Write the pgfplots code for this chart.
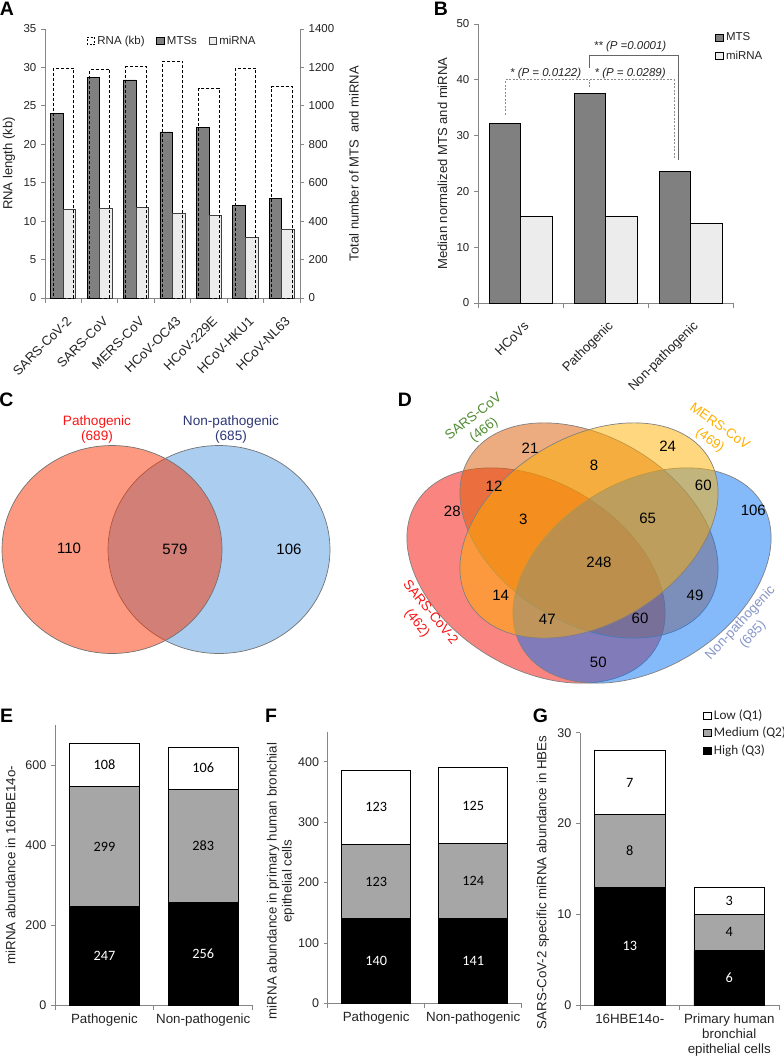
\documentclass[border=0pt]{standalone}
\usepackage{fontspec}
\setmainfont{Liberation Sans}
\newfontfamily\calib{Carlito}
\usepackage{pgfplots}
\pgfplotsset{compat=1.18}
\newdimen\px \px=0.75pt
\definecolor{axg}{RGB}{134,134,134}
\definecolor{txt}{RGB}{35,35,35}
\definecolor{mts}{RGB}{128,128,128}
\definecolor{mir}{RGB}{236,236,236}
\definecolor{med}{RGB}{166,166,166}
\definecolor{vL}{RGB}{249,51,1}
\definecolor{vR}{RGB}{85,155,225}
\definecolor{dA}{RGB}{245,10,0}
\definecolor{dB}{RGB}{220,90,0}
\definecolor{dC}{RGB}{255,175,0}
\definecolor{dD}{RGB}{10,115,245}
\definecolor{pgreen}{RGB}{80,140,50}
\definecolor{porange}{RGB}{255,175,0}
\definecolor{pslate}{RGB}{135,150,200}
\definecolor{pnavy}{RGB}{45,55,120}
\definecolor{pred}{RGB}{250,20,20}
\newcommand\ftick{\fontsize{8.6}{10}\selectfont}
\newcommand\frot{\fontsize{9.8}{10}\selectfont}
\newcommand\flab{\fontsize{9.8}{11}\selectfont}
\newcommand\fbtick{\fontsize{9.4}{11}\selectfont}
\newcommand\fblab{\fontsize{10}{11.25}\selectfont}
\newcommand\fletter{\fontsize{14.6}{16}\selectfont\bfseries}
\newcommand\fnum{\fontsize{11.25}{13}\selectfont}
\newcommand\fin{\calib\fontsize{10.7}{12}\selectfont}
\pgfplotsset{
  base/.style={
    scale only axis, anchor=south west,
    axis line style={axg, line width=0.8\px},
    tick style={axg, line width=0.8\px},
    tick align=outside,
    major tick length=4\px, minor tick length=5\px,
    /pgf/number format/assume math mode=true,
    /pgf/number format/1000 sep={},
    tick label style={text=txt},
    label style={text=txt},
    axis x line*=bottom, axis y line*=left,
    major x tick style={draw=none},
  },
  over/.style={scale only axis, anchor=south west, hide axis, clip=false},
  sqleg/.style={legend image code/.code={\draw[##1] (0pt,-3.5\px) rectangle (7.5\px,3.5\px);}},
}
\begin{document}
\begin{tikzpicture}
\useasboundingbox (0,0) rectangle (784\px,-1059\px);

% ---------------- Panel A ----------------
\begin{axis}[base, at={(45\px,-298\px)}, width=255\px, height=269\px,
  xmin=-0.5, xmax=6.5, ymin=0, ymax=1400,
  axis y line*=right,
  ytick={0,200,...,1400},
  xtick={0,...,6},
  xticklabels={SARS-CoV-2,SARS-CoV,MERS-CoV,HCoV-OC43,HCoV-229E,HCoV-HKU1,HCoV-NL63},
  minor xtick={-0.5,0.5,...,6.5},
  x tick label style={font=\frot, yshift=-16\px, xshift=7\px, rotate=45, anchor=east, inner sep=1pt},
  y tick label style={font=\ftick},
  ylabel={Total number of MTS\ \ and miRNA},
  ylabel style={font=\flab, at={(axis description cs:1.212,0.5)}, anchor=center},
]
\addplot[ybar, bar width=0.345, bar shift=-0.1725, fill=mts, draw=black, line width=0.8\px]
  coordinates {(0,959) (1,1150) (2,1135) (3,864) (4,888) (5,482) (6,520)};
\addplot[ybar, bar width=0.345, bar shift=0.1725, fill=mir, draw=black!75, line width=0.8\px]
  coordinates {(0,462) (1,466) (2,469) (3,442) (4,430) (5,316) (6,359)};
\end{axis}
\begin{axis}[base, at={(45\px,-298\px)}, width=255\px, height=269\px,
  xmin=-0.5, xmax=6.5, ymin=0, ymax=35,
  axis x line=none,
  ytick={0,5,...,35},
  y tick label style={font=\ftick},
  ylabel={RNA length (kb)},
  ylabel style={font=\flab, at={(axis description cs:-0.141,0.5)}, anchor=center},
  legend style={at={(0.5,0.995)}, anchor=north, draw=none, fill=none, legend columns=3,
    font=\ftick, text=txt, /tikz/every even column/.append style={column sep=9\px}},
]
\addplot[ybar, bar width=0.56, bar shift=0, draw=black, fill=none, line width=0.8\px,
  dash pattern=on 3\px off 2\px, forget plot]
  coordinates {(0,29.9) (1,29.7) (2,30.1) (3,30.8) (4,27.3) (5,29.9) (6,27.5)};
\addlegendimage{sqleg, draw=black, dash pattern=on 2\px off 1.5\px, fill=white}
\addlegendimage{sqleg, draw=black, fill=mts}
\addlegendimage{sqleg, draw=black!75, fill=mir}
\legend{RNA (kb), MTSs, miRNA}
\end{axis}

% ---------------- Panel B ----------------
\begin{axis}[base, at={(478\px,-303\px)}, width=255\px, height=279\px,
  xmin=-0.5, xmax=2.5, ymin=0, ymax=50, clip=false,
  ytick={0,10,...,50},
  xtick={0,1,2}, xticklabels={HCoVs,Pathogenic,Non-pathogenic},
  minor xtick={-0.5,0.5,1.5,2.5},
  x tick label style={font=\frot, yshift=-16\px, xshift=7\px, rotate=45, anchor=east, inner sep=1pt},
  y tick label style={font=\ftick},
  ylabel={Median normalized MTS and miRNA},
  ylabel style={font=\flab, at={(axis description cs:-0.139,0.5)}, anchor=center},
  legend style={at={(0.914,0.99)}, anchor=north west, draw=none, fill=none,
    font=\ftick, text=txt, row sep=3\px},
  legend cell align=left,
]
\addplot[ybar, bar width=0.37, bar shift=-0.185, fill=mts, draw=black, line width=0.8\px, forget plot]
  coordinates {(0,32.1) (1,37.6) (2,23.5)};
\addplot[ybar, bar width=0.37, bar shift=0.185, fill=mir, draw=black, line width=0.8\px, forget plot]
  coordinates {(0,15.5) (1,15.6) (2,14.3)};
\addlegendimage{sqleg, draw=black, fill=mts}
\addlegendimage{sqleg, draw=black, fill=mir}
\legend{MTS, miRNA}
\draw[black!45, line width=0.8\px, dash pattern=on 2\px off 1.5\px]
  (axis cs:-0.178,33.75) |- (axis cs:1.806,40) -- (axis cs:1.806,25.7);
\draw[black!45, line width=0.8\px, dash pattern=on 2\px off 1.5\px]
  (axis cs:0.814,38.7) -- (axis cs:0.814,40);
\draw[black!60, line width=0.8\px]
  (axis cs:0.814,42.1) |- (axis cs:1.853,44.3) -- (axis cs:1.853,25.7);
\node[font=\ftick\itshape, text=txt] at (axis cs:0.296,41.2) {* (P = 0.0122)};
\node[font=\ftick\itshape, text=txt] at (axis cs:1.29,41.2) {* (P = 0.0289)};
\node[font=\ftick\itshape, text=txt] at (axis cs:1.29,45.9) {** (P =0.0001)};
\end{axis}

% ---------------- Panels C and D (Venn) ----------------
\begin{axis}[over, at={(0\px,-690\px)}, width=784\px, height=305\px,
  xmin=0, xmax=784, ymin=385, ymax=690, y dir=reverse]
% C
\filldraw[fill=vR, fill opacity=0.5, draw=black!55, line width=0.7\px]
  (axis cs:219,549.5) ellipse [x radius=111\px, y radius=104\px];
\filldraw[fill=vL, fill opacity=0.5, draw=black!55, line width=0.7\px]
  (axis cs:112,549.5) ellipse [x radius=110\px, y radius=104\px];
\node[font=\fontsize{10.2}{11.25}\selectfont, text=pred, align=center] at (axis cs:97,429.5) {Pathogenic\\(689)};
\node[font=\fontsize{10.2}{11.25}\selectfont, text=pnavy, align=center] at (axis cs:231,429) {Non-pathogenic\\(685)};
\node[font=\fnum] at (axis cs:69,548) {110};
\node[font=\fnum] at (axis cs:175,549) {579};
\node[font=\fnum] at (axis cs:289,549) {106};
% D
\filldraw[fill=dA, fill opacity=0.5, draw=black!50, line width=0.7\px, rotate around={-31.2:(axis cs:536,575.5)}]
  (axis cs:536,575.5) ellipse [x radius=140\px, y radius=93\px];
\filldraw[fill=dB, fill opacity=0.5, draw=black!50, line width=0.7\px, rotate around={-31.2:(axis cs:589,530.5)}]
  (axis cs:589,530.5) ellipse [x radius=140\px, y radius=93\px];
\filldraw[fill=dD, fill opacity=0.5, draw=black!50, line width=0.7\px, rotate around={31.2:(axis cs:642,575.5)}]
  (axis cs:642,575.5) ellipse [x radius=140\px, y radius=93\px];
\filldraw[fill=dC, fill opacity=0.5, draw=black!50, line width=0.7\px, rotate around={31.2:(axis cs:589,530.5)}]
  (axis cs:589,530.5) ellipse [x radius=140\px, y radius=93\px];
\node[font=\fontsize{10.1}{12.75}\selectfont, text=pgreen, align=center, rotate=38] at (axis cs:479,423.7) {SARS-CoV\\(466)};
\node[font=\fontsize{10.1}{12.75}\selectfont, text=porange, align=center, rotate=-35.5] at (axis cs:714.5,433.7) {MERS-CoV\\(469)};
\node[font=\fontsize{10.1}{12.75}\selectfont, text=pred, align=center, rotate=-51] at (axis cs:423.3,618) {SARS-CoV-2\\(462)};
\node[font=\fontsize{10.1}{12.75}\selectfont, text=pslate, align=center, rotate=47] at (axis cs:746.7,629) {Non-pathogenic\\(685)};
\node[font=\fnum] at (axis cs:530,448.3) {21};
\node[font=\fnum] at (axis cs:594,465) {8};
\node[font=\fnum] at (axis cs:667.7,446.7) {24};
\node[font=\fnum] at (axis cs:494,486) {12};
\node[font=\fnum] at (axis cs:703.3,485) {60};
\node[font=\fnum] at (axis cs:452.3,511.7) {28};
\node[font=\fnum] at (axis cs:753.3,510.7) {106};
\node[font=\fnum] at (axis cs:523.3,519.3) {3};
\node[font=\fnum] at (axis cs:647.7,518.3) {65};
\node[font=\fnum] at (axis cs:599,562.7) {248};
\node[font=\fnum] at (axis cs:500.7,595) {14};
\node[font=\fnum] at (axis cs:695,595) {49};
\node[font=\fnum] at (axis cs:547.3,619) {47};
\node[font=\fnum] at (axis cs:640,618.3) {60};
\node[font=\fnum] at (axis cs:598.3,662.7) {50};
\end{axis}

% ---------------- Panel E ----------------
\begin{axis}[base, at={(55\px,-1005\px)}, width=197.7\px, height=280\px,
  ybar stacked, bar width=0.71,
  xmin=-0.5, xmax=1.5, ymin=0, ymax=700,
  ytick={0,200,400,600},
  xtick={0,1}, xticklabels={Pathogenic,Non-pathogenic},
  minor xtick={-0.5,0.5,1.5},
  x tick label style={font=\fblab},
  y tick label style={font=\fbtick},
  ylabel={miRNA abundance in 16HBE14o-},
  ylabel style={font=\fblab, at={(axis description cs:-0.225,0.5)}, anchor=center},
]
\addplot[fill=black, draw=black, line width=0.8\px] coordinates {(0,247) (1,256)};
\addplot[fill=med, draw=black, line width=0.8\px] coordinates {(0,299) (1,283)};
\addplot[fill=white, draw=black, line width=0.8\px] coordinates {(0,108) (1,106)};
\end{axis}
\begin{axis}[over, at={(55\px,-1005\px)}, width=197.7\px, height=280\px,
  xmin=-0.5, xmax=1.5, ymin=0, ymax=700]
\node[font=\fin, text=white] at (axis cs:0,123.5) {247};
\node[font=\fin] at (axis cs:0,396.5) {299};
\node[font=\fin] at (axis cs:0,600) {108};
\node[font=\fin, text=white] at (axis cs:1,128) {256};
\node[font=\fin] at (axis cs:1,397.5) {283};
\node[font=\fin] at (axis cs:1,592) {106};
\end{axis}

% ---------------- Panel F ----------------
\begin{axis}[base, at={(327.7\px,-1003.3\px)}, width=194\px, height=271.8\px,
  ybar stacked, bar width=0.71,
  xmin=-0.5, xmax=1.5, ymin=0, ymax=450,
  ytick={0,100,...,400},
  xtick={0,1}, xticklabels={Pathogenic,Non-pathogenic},
  minor xtick={-0.5,0.5,1.5},
  x tick label style={font=\fblab},
  y tick label style={font=\fbtick},
  ylabel={miRNA abundance in primary human bronchial\\epithelial cells},
  ylabel style={font=\fblab, align=center, at={(axis description cs:-0.243,0.45)}, anchor=center},
]
\addplot[fill=black, draw=black, line width=0.8\px] coordinates {(0,140) (1,141)};
\addplot[fill=med, draw=black, line width=0.8\px] coordinates {(0,123) (1,124)};
\addplot[fill=white, draw=black, line width=0.8\px] coordinates {(0,123) (1,125)};
\end{axis}
\begin{axis}[over, at={(327.7\px,-1003.3\px)}, width=194\px, height=271.8\px,
  xmin=-0.5, xmax=1.5, ymin=0, ymax=450]
\node[font=\fin, text=white] at (axis cs:0,70) {140};
\node[font=\fin] at (axis cs:0,201.5) {123};
\node[font=\fin] at (axis cs:0,324.5) {123};
\node[font=\fin, text=white] at (axis cs:1,70.5) {141};
\node[font=\fin] at (axis cs:1,203) {124};
\node[font=\fin] at (axis cs:1,327.5) {125};
\end{axis}

% ---------------- Panel G ----------------
\begin{axis}[base, at={(580\px,-1005\px)}, width=199\px, height=272.3\px,
  ybar stacked, bar width=0.71,
  xmin=-0.5, xmax=1.5, ymin=0, ymax=30,
  ytick={0,10,20,30},
  xtick={0,1}, xticklabels={16HBE14o-,Primary human\\bronchial\\epithelial cells},
  minor xtick={-0.5,0.5,1.5},
  x tick label style={font=\fblab, align=center},
  y tick label style={font=\fbtick},
  ylabel={SARS-CoV-2 specific miRNA abundance in HBEs},
  ylabel style={font=\fblab, at={(axis description cs:-0.186,0.45)}, anchor=center},
  legend style={at={(0.598,1.105)}, anchor=north west, draw=none, fill=none,
    font=\calib\fontsize{9.9}{11}\selectfont, text=txt, row sep=0.5\px},
  legend cell align=left,
]
\addplot[fill=black, draw=black, line width=0.8\px, forget plot] coordinates {(0,13) (1,6)};
\addplot[fill=med, draw=black, line width=0.8\px, forget plot] coordinates {(0,8) (1,4)};
\addplot[fill=white, draw=black, line width=0.8\px, forget plot] coordinates {(0,7) (1,3)};
\addlegendimage{sqleg, draw=black, fill=white}
\addlegendimage{sqleg, draw=black, fill=med}
\addlegendimage{sqleg, draw=black, fill=black}
\legend{Low (Q1), Medium (Q2), High (Q3)}
\end{axis}
\begin{axis}[over, at={(580\px,-1005\px)}, width=199\px, height=272.3\px,
  xmin=-0.5, xmax=1.5, ymin=0, ymax=30]
\node[font=\fin, text=white] at (axis cs:0,6.5) {13};
\node[font=\fin] at (axis cs:0,17) {8};
\node[font=\fin] at (axis cs:0,24.5) {7};
\node[font=\fin, text=white] at (axis cs:1,3) {6};
\node[font=\fin] at (axis cs:1,8) {4};
\node[font=\fin] at (axis cs:1,11.5) {3};
\end{axis}

% ---------------- Panel letters ----------------
\node[font=\fletter] at (7\px,-8.5\px) {A};
\node[font=\fletter] at (441\px,-8.5\px) {B};
\node[font=\fletter] at (6.5\px,-400\px) {C};
\node[font=\fletter] at (405\px,-400\px) {D};
\node[font=\fletter] at (6.5\px,-716\px) {E};
\node[font=\fletter] at (271\px,-716\px) {F};
\node[font=\fletter] at (540.5\px,-716\px) {G};
\end{tikzpicture}
\end{document}
